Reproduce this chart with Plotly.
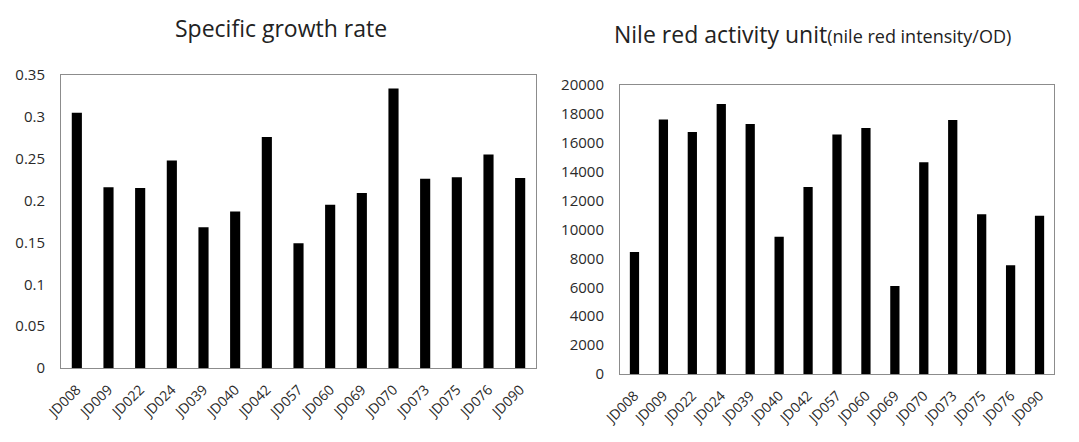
import plotly.graph_objects as go

strains = ["JD008", "JD009", "JD022", "JD024", "JD039", "JD040", "JD042", "JD057",
           "JD060", "JD069", "JD070", "JD073", "JD075", "JD076", "JD090"]
growth_rate = [0.305, 0.216, 0.215, 0.248, 0.168, 0.187, 0.276, 0.149,
               0.195, 0.209, 0.334, 0.226, 0.228, 0.255, 0.227]
nile_red = [8440, 17620, 16750, 18690, 17300, 9500, 12940, 16570,
            17020, 6090, 14650, 17580, 11050, 7520, 10960]

growth_ticks = [0, 0.05, 0.1, 0.15, 0.2, 0.25, 0.3, 0.35]
growth_ticktext = ["0", "0.05", "0.1", "0.15", "0.2", "0.25", "0.3", "0.35"]
nile_ticks = [0, 2000, 4000, 6000, 8000, 10000, 12000, 14000, 16000, 18000, 20000]
nile_ticktext = ["0", "2000", "4000", "6000", "8000", "10000", "12000", "14000",
                 "16000", "18000", "20000"]

W, H = 1079, 442
FONT = "Open Sans, Noto Sans, sans-serif"
TXT = "#2a2a2a"
FRAME = "#8c8c8c"

fig = go.Figure()
fig.add_trace(go.Bar(x=strains, y=growth_rate, marker=dict(color="black", line=dict(width=0)),
                     xaxis="x", yaxis="y", showlegend=False))
fig.add_trace(go.Bar(x=strains, y=nile_red, marker=dict(color="black", line=dict(width=0)),
                     xaxis="x2", yaxis="y2", showlegend=False))

ax_common = dict(showline=True, mirror=True, linecolor=FRAME, linewidth=1,
                 showgrid=False, zeroline=False, ticks="", automargin=False)
yfont = dict(family=FONT, size=15, color=TXT)
xfont = dict(family=FONT, size=14, color=TXT)

fig.update_layout(
    width=W, height=H,
    margin=dict(l=0, r=0, t=0, b=0, autoexpand=False),
    paper_bgcolor="white", plot_bgcolor="white",
    bargap=0.68,
    xaxis=dict(domain=[61 / W, 536 / W], anchor="y", tickangle=-45, ticklabelstandoff=7,
               tickfont=xfont, **ax_common),
    yaxis=dict(domain=[(H - 368) / H, (H - 75) / H], anchor="x", range=[0, 0.35],
               tickvals=growth_ticks, ticktext=growth_ticktext, ticklabelstandoff=12,
               tickfont=yfont, **ax_common),
    xaxis2=dict(domain=[620 / W, 1054 / W], anchor="y2", tickangle=-45, ticklabelstandoff=7,
                tickfont=xfont, **ax_common),
    yaxis2=dict(domain=[(H - 374) / H, (H - 85) / H], anchor="x2", range=[0, 20000],
                tickvals=nile_ticks, ticktext=nile_ticktext, ticklabelstandoff=12,
                tickfont=yfont, **ax_common),
    annotations=[
        dict(text="Specific growth rate", x=281 / W, y=1 - 28 / H, xref="paper", yref="paper",
             showarrow=False, xanchor="center", yanchor="middle",
             font=dict(family=FONT, size=23, color="#222222")),
        dict(text="Nile red activity unit<span style='font-size:18px'>(nile red intensity/OD)</span>",
             x=812 / W, y=1 - 34 / H, xref="paper", yref="paper",
             showarrow=False, xanchor="center", yanchor="middle",
             font=dict(family=FONT, size=23, color="#222222")),
    ],
)

fig.write_html("out.html")
